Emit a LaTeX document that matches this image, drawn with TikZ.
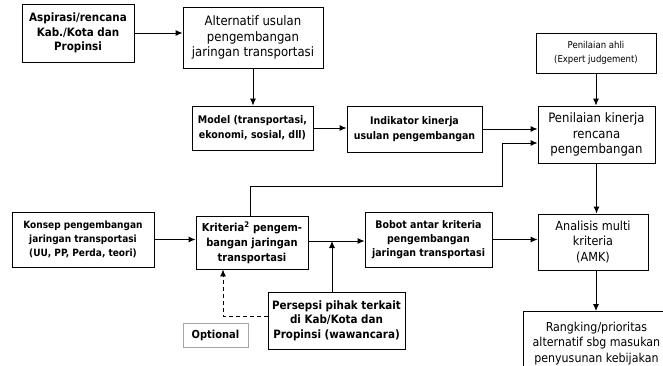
\documentclass[tikz,border=0pt]{standalone}
\usepackage{fontspec}
\setmainfont{DejaVu Sans Condensed}
\usetikzlibrary{arrows.meta,calc}
\tikzset{
  box/.style={draw, line width=0.9pt, inner sep=0pt, align=center, anchor=center},
  bb/.style={box, font=\fontsize{10.5}{14.5}\selectfont\bfseries},
  br/.style={box, font=\fontsize{13}{15.5}\selectfont},
  conn/.style={line width=0.9pt, -{Latex[length=7pt,width=6pt]}},
}
\begin{document}
\begin{tikzpicture}[x=1pt,y=-1pt]
\clip (0,0) rectangle (663,366);
\fill[white] (0,0) rectangle (663,366);
\node[bb, font=\fontsize{11.5}{14.5}\selectfont\bfseries, minimum width=112, minimum height=58] (A) at (78,33) {Aspirasi/rencana\\Kab./Kota dan\\Propinsi};
\node[br, minimum width=140, minimum height=61] (B) at (253,37.5) {Alternatif usulan\\pengembangan\\jaringan transportasi};
\node[bb, minimum width=121, minimum height=44] (M) at (252.5,128) {Model (transportasi,\\ekonomi, sosial, dll)};
\node[bb, minimum width=135, minimum height=46] (I) at (414.5,129) {Indikator kinerja\\usulan pengembangan};
\node[box, font=\fontsize{9.5}{14}\selectfont, minimum width=120, minimum height=40] (E) at (596,53) {Penilaian ahli\\(Expert judgement)};
\node[br, minimum width=117, minimum height=57] (P) at (596.5,134.5) {Penilaian kinerja\\rencana\\pengembangan};
\node[bb, font=\fontsize{10}{14}\selectfont\bfseries, minimum width=142, minimum height=55] (K) at (83,239.5) {Konsep pengembangan\\jaringan transportasi\\(UU, PP, Perda, teori)};
\node[bb, font=\fontsize{11}{15}\selectfont\bfseries, minimum width=112, minimum height=53] (C) at (252,242.5) {Kriteria\textsuperscript{2} pengem-\\bangan jaringan\\transportasi};
\node[bb, font=\fontsize{10.5}{14}\selectfont\bfseries, minimum width=127, minimum height=55] (W) at (428.5,239.5) {Bobot antar kriteria\\pengembangan\\jaringan transportasi};
\node[br, font=\fontsize{12.5}{15.5}\selectfont, minimum width=110, minimum height=56] (N) at (593,242) {Analisis multi\\kriteria\\(AMK)};
\node[br, font=\fontsize{12.3}{15.5}\selectfont, minimum width=146, minimum height=64, anchor=north west] (R) at (523,311) {Rangking/prioritas\\alternatif sbg masukan\\penyusunan kebijakan};
\node[bb, font=\fontsize{11.5}{14.5}\selectfont\bfseries, minimum width=137, minimum height=57] (S) at (336.5,320.5) {Persepsi pihak terkait\\di Kab/Kota dan\\Propinsi (wawancara)};
\node[bb, draw=black!35, font=\fontsize{11}{14}\selectfont\bfseries, minimum width=65, minimum height=24] (O) at (215.5,335) {Optional};
% connectors
\draw[conn] (A.east) -- (A.east -| B.west);
\draw[conn] (B.south) -- (B.south |- M.north);
\draw[conn] (M.east) -- (M.east -| I.west);
\draw[conn] (I.east) -- (I.east -| P.west);
\draw[conn] (E.south) -- (E.south |- P.north);
\draw[conn] (P.south) -- (P.south |- N.north);
\draw[conn] ([xshift=3pt]N.south) -- ([xshift=3pt]N.south |- R.north);
\draw[conn] (K.east) -- (K.east -| C.west);
\coordinate (cw) at ($(C.east)+(0,-1.5)$);
\draw[conn] (cw) -- (cw -| W.west);
\draw[conn] (W.east) -- (W.east -| N.west);
\coordinate (c1) at ($(C.north)+(-2,0)$);
\coordinate (c2) at (250,186);
\coordinate (c3) at (502,186);
\coordinate (c4) at (502,143);
\draw[conn] (c1) -- (c2) -- (c3) -- (c4) -- (c4 -| P.west);
\coordinate (s1) at (332,292);
\coordinate (s2) at (332,241);
\draw[conn] (s1) -- (s2);
\coordinate (d1) at (268,316);
\coordinate (d2) at (223,316);
\draw[conn, dashed, dash pattern=on 4pt off 3pt] (d1) -- (d2) -- (d2 |- C.south);
\end{tikzpicture}
\end{document}
